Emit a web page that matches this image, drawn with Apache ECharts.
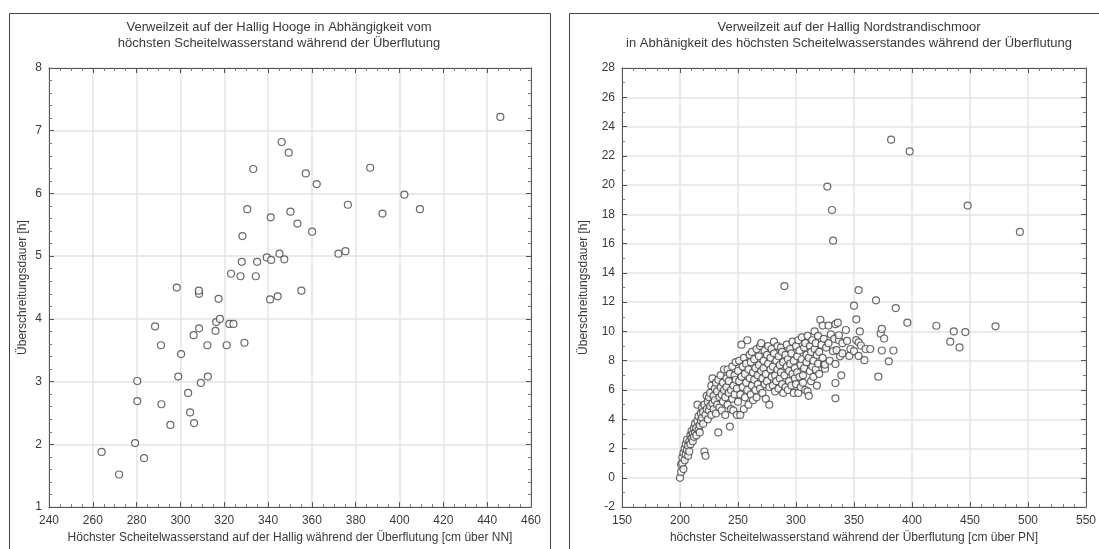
<!DOCTYPE html>
<html><head><meta charset="utf-8">
<script src="https://cdn.jsdelivr.net/npm/echarts@6/dist/echarts.min.js"></script>
<style>html,body{margin:0;padding:0;background:#fff}#c{width:1099px;height:549px}</style>
</head><body><div id="c"></div><script>
// Left chart: Hallig Hooge [Scheitelwasserstand cm über NN, Überschreitungsdauer h]
const hoogeData = [
[264,1.88],[272,1.52],[279.3,2.02],[283.4,1.78],[280.3,2.69],[280.3,3.01],[288.4,3.88],[291.1,3.58],[291.3,2.64],[295.4,2.31],
[299,3.08],[300.3,3.44],[298.3,4.5],[303.5,2.82],[304.4,2.51],[306.2,2.34],[306,3.74],[308.5,3.85],[308.5,4.40],[308.4,4.45],
[309.3,2.98],[312.5,3.08],[312.3,3.58],[316,3.81],[316.3,3.95],[318,4.0],[317.4,4.32],[321.1,3.58],[322.3,3.92],[324.2,3.92],
[323.1,4.72],[327.4,4.68],[328,4.91],[328.3,5.32],[329.2,3.62],[330.5,5.75],[333.2,6.39],[334.4,4.68],[335,4.91],[339.4,4.98],
[341.4,4.94],[341.2,5.62],[340.9,4.31],[344.4,4.36],[345.2,5.04],[347.4,4.95],[346.2,6.82],[349.4,6.65],[350.2,5.71],[353.4,5.52],
[355.2,4.45],[357.2,6.32],[360.1,5.39],[362.2,6.15],[372.1,5.04],[375.3,5.08],[376.4,5.82],[386.6,6.41],[392.2,5.68],[402.2,5.98],
[409.3,5.75],[446,7.22]
];
// Right chart: Hallig Nordstrandischmoor [Scheitelwasserstand cm über PN, Überschreitungsdauer h]
const nordData = [
[200,0.0],[201,0.4],[201,0.9],[202,1.0],[202,1.4],[203,0.6],[203,1.7],[204,1.2],[204,2.0],[205,1.6],[205,2.3],[206,1.9],[206,2.6],
[207,1.5],[207,2.2],[208,2.5],[208,1.8],[209,2.9],[209,2.3],[210,2.7],[210,3.2],[211,2.5],[211,3.0],[212,2.8],[212,3.4],
[213,3.1],[213,3.7],[214,3.4],[214,2.9],[215,5.0],[215,3.9],[216,3.3],[216,4.2],[217,3.1],[217,3.6],[218,4.4],[218,3.9],[219,4.8],
[219,4.1],[220,3.7],[220,4.5],[221,1.8],[222,1.5],[221,5.0],[222,4.3],[223,4.7],[223,5.6],[224,4.0],[224,5.2],[225,4.6],[225,5.5],
[226,4.9],[226,5.8],[227,4.3],[227,6.3],[228,5.1],[228,6.8],[229,4.7],[229,5.6],[230,6.1],[230,5.3],[231,4.4],[231,6.5],[232,5.0],
[232,5.9],[233,3.1],[233,6.7],[234,4.8],[234,5.5],[235,6.2],[235,7.0],[236,4.6],[236,5.7],[237,6.5],[237,5.2],[238,7.4],[238,6.0],
[239,4.3],[239,5.5],[240,6.8],[240,6.2],
[241,7.4],[241,5.0],[242,5.8],[242,6.6],[243,3.5],[243,7.1],[244,4.7],[244,6.0],[245,5.4],[245,7.6],[246,6.3],[246,4.6],[247,7.0],
[247,5.7],[248,6.7],[248,7.9],[249,4.3],[249,6.1],[250,5.2],[250,7.3],[251,6.6],[251,8.0],[252,4.3],[252,5.7],[253,9.1],[253,6.9],
[254,7.6],[254,6.2],[255,4.7],[255,8.2],[256,5.5],[256,7.1],[257,6.5],[257,7.8],[258,9.4],[258,6.0],[259,5.0],[259,7.4],[260,6.8],[260,8.4],
[261,5.7],[261,7.9],[262,6.3],[262,8.6],[263,7.2],[263,5.3],[264,6.7],[264,8.1],[265,7.5],[265,6.0],[266,8.8],[266,5.5],[267,7.0],
[267,6.4],[268,8.3],[268,7.7],[269,6.1],[269,9.0],[270,7.3],[270,9.2],[271,5.8],[271,6.8],[272,8.0],[272,7.5],[273,6.4],[273,8.7],
[274,7.1],[274,5.4],[275,8.4],[275,6.6],[276,7.8],[276,9.0],[277,5.0],[277,6.2],[278,8.2],[278,7.4],[279,6.9],[279,8.8],[280,7.6],[280,6.3],
[281,8.5],[281,9.3],[282,7.0],[282,5.9],[283,8.0],[283,6.6],[284,7.4],[284,9.0],[285,6.1],[285,8.3],[286,7.7],[286,6.8],[287,8.9],
[287,7.2],[288,6.4],[288,8.6],[289,5.8],[289,7.9],[290,13.1],[290,7.0],[291,8.4],[291,6.2],[292,7.6],[292,9.1],[293,6.0],[293,8.1],
[294,7.3],[294,6.6],[295,8.8],[295,7.8],[296,6.3],[296,8.5],[297,7.1],[297,9.3],[298,5.8],[298,8.0],[299,6.8],[299,7.5],[300,9.0],[300,6.4],
[301,8.3],[301,7.2],[302,5.8],[302,9.4],[303,6.9],[303,8.7],[304,7.7],[304,6.2],[305,9.6],[305,8.1],[306,7.0],[306,6.5],[307,8.9],
[307,7.5],[308,9.2],[308,6.0],[309,8.4],[309,7.9],[310,5.9],[310,9.7],[311,5.6],[311,8.2],[312,7.3],[312,9.0],[313,6.6],[313,8.6],
[314,9.4],[314,7.6],[315,8.0],[315,6.9],[316,10.0],[316,8.8],[317,7.4],[317,9.2],[318,6.3],[318,8.4],[319,9.7],[319,7.8],[320,8.6],[320,7.1],
[321,10.8],[322,9.1],[323,10.4],[323,8.2],[324,7.7],[324,9.5],[325,7.46],[325,7.74],[326,8.9],[327,19.9],[328,10.4],[328,9.2],[329,8.0],
[330,9.8],[331,18.3],[332,16.2],[332,8.65],[333,9.5],[334,10.5],[334,7.78],[334,6.48],[334,5.43],[335,8.72],[336,10.6],[337,9.4],
[337,9.74],[338,8.3],[339,7.0],[340,9.2],[340,8.5],
[343,10.1],[344,9.35],[346,8.33],[347,8.8],[350,11.76],[350,8.65],[352,10.83],[352,9.41],[354,12.83],[354,8.33],[354,9.26],[355,10.0],
[356,9.04],[359,8.04],[360,8.8],[364,8.8],[369,12.13],[371,6.91],[373,9.85],[374,10.17],[374,8.7],[376,9.52],[380,7.96],[382,23.1],
[384,8.7],[386,11.6],[396,10.6],[398,22.3],[421,10.39],[433,9.3],[436,10.0],[441,8.91],[446,9.96],[448,18.6],[472,10.35],[493,16.8]
];
const hoogeX = {min:240, max:460, interval:20, minor:4};
const hoogeY = {min:1, max:8, interval:1, minor:5};
const nordX = {min:150, max:550, interval:50, minor:5};
const nordY = {min:-2, max:28, interval:2, minor:2};
const titles = [
  'Verweilzeit auf der Hallig Hooge in Abhängigkeit vom\nhöchsten Scheitelwasserstand während der Überflutung',
  'Verweilzeit auf der Hallig Nordstrandischmoor\nin Abhänigkeit des höchsten Scheitelwasserstandes während der Überflutung'
];
const xNames = ['Höchster Scheitelwasserstand auf der Hallig während der Überflutung [cm über NN]',
  'höchster Scheitelwasserstand während der Überflutung [cm über PN]'];
const yName = 'Überschreitungsdauer [h]';

const FONT = 'Liberation Sans, Arial, sans-serif';
const TXT = '#3a3a3a';
const grids = [
  {left:49, top:68, width:482, height:449},
  {left:622, top:68, width:472, height:449}
];
function axis(kind, cfg, gi, main, name, gap){
  const a = {
    type:'value', gridIndex:gi, min:cfg.min, max:cfg.max, interval:cfg.interval,
    position: kind==='x' ? (main?'bottom':'top') : (main?'left':'right'),
    axisLine:{show:true, onZero:false, lineStyle:{color:'#555', width:1}},
    axisTick:{show:true, inside:true, length:5, lineStyle:{color:'#555'}},
    minorTick:{show:true, splitNumber:cfg.minor, length:3, lineStyle:{color:'#777'}},
    axisLabel:{show:main, color:TXT, fontFamily:FONT, fontSize:12, margin: kind==='x' ? 8 : 7},
    splitLine:{show:main, lineStyle:{color:'#e3e3e3', width:1.5}},
  };
  if(main && name){
    a.name = name; a.nameLocation='middle';
    a.nameTextStyle = {color:TXT, fontFamily:FONT, fontSize:12};
    a.nameGap = gap;
  }
  return a;
}
const option = {
  backgroundColor:'#fff',
  animation:false,
  title: [
    {text:titles[0], left:274, top:14, textAlign:'center',
     textStyle:{color:TXT, fontFamily:FONT, fontSize:13, fontWeight:'normal', lineHeight:16}},
    {text:titles[1], left:844, top:14, textAlign:'center',
     textStyle:{color:TXT, fontFamily:FONT, fontSize:13, fontWeight:'normal', lineHeight:16}}
  ],
  grid: grids,
  xAxis: [axis('x',hoogeX,0,true,xNames[0],24), axis('x',hoogeX,0,false), axis('x',nordX,1,true,xNames[1],24), axis('x',nordX,1,false)],
  yAxis: [axis('y',hoogeY,0,true,yName,20), axis('y',hoogeY,0,false), axis('y',nordY,1,true,yName,32), axis('y',nordY,1,false)],
  graphic: [
    {type:'rect', shape:{x:9.5,y:13.5,width:541,height:560}, style:{fill:'none', stroke:'#444', lineWidth:1}, silent:true},
    {type:'rect', shape:{x:569.5,y:13.5,width:560,height:560}, style:{fill:'none', stroke:'#444', lineWidth:1}, silent:true}
  ],
  series: [
    {type:'scatter', xAxisIndex:0, yAxisIndex:0, data:hoogeData, symbol:'circle', symbolSize:7,
     itemStyle:{color:'#fff', borderColor:'#444', borderWidth:1.2}},
    {type:'scatter', xAxisIndex:2, yAxisIndex:2, data:nordData, symbol:'circle', symbolSize:7,
     itemStyle:{color:'#fff', borderColor:'#444', borderWidth:1.2}}
  ]
};
echarts.init(document.getElementById('c'), null, {renderer:'canvas'}).setOption(option);
</script></body></html>
